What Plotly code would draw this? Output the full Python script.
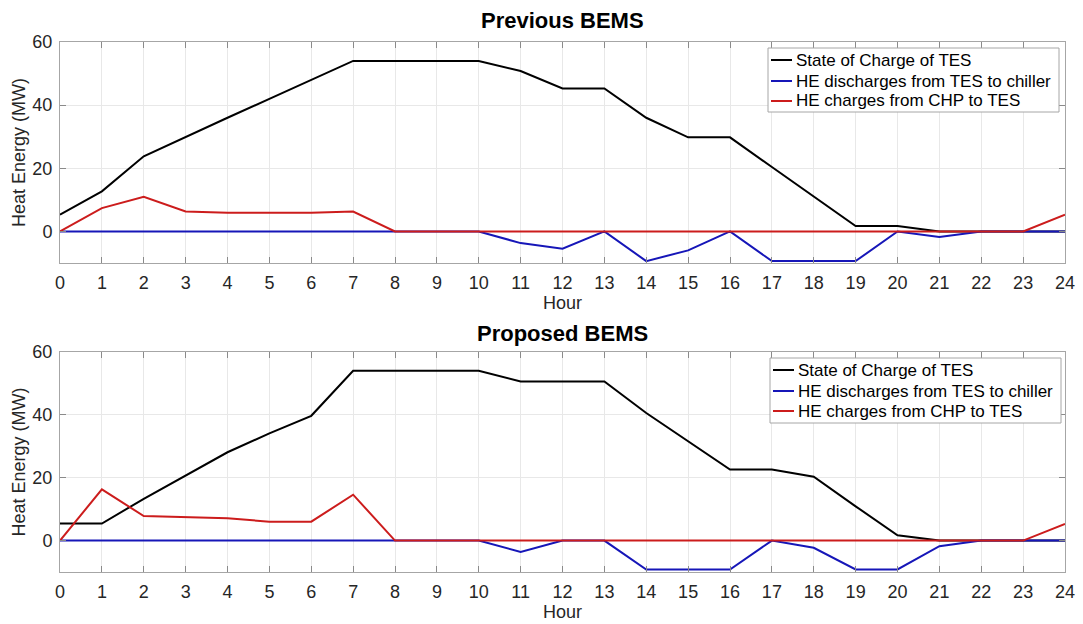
import plotly.graph_objects as go

hours = list(range(25))
x_ticks = list(range(25))
y_ticks = [0, 20, 40, 60]

names = ["State of Charge of TES", "HE discharges from TES to chiller", "HE charges from CHP to TES"]

prev_soc = [5.3, 12.7, 23.8, 30.0, 36.0, 42.0, 48.0, 54.0, 54.0, 54.0, 54.0, 50.8, 45.3, 45.3,
            36.0, 29.8, 29.8, 20.4, 11.1, 1.7, 1.7, 0.0, 0.0, 0.0, 0.0]
prev_dis = [0, 0, 0, 0, 0, 0, 0, 0, 0, 0, 0, -3.7, -5.5, 0, -9.4, -6.0, 0, -9.4, -9.4, -9.4,
            0, -1.8, 0, 0, 0]
prev_chg = [0, 7.4, 11.0, 6.3, 5.9, 5.8, 5.9, 6.3, 0, 0, 0, 0, 0, 0, 0, 0, 0, 0, 0, 0, 0, 0,
            0, 0, 5.3]

prop_soc = [5.4, 5.4, 13.3, 20.8, 28.1, 34.1, 39.7, 54.0, 54.0, 54.0, 54.0, 50.6, 50.6, 50.6,
            40.6, 31.5, 22.6, 22.6, 20.3, 10.9, 1.7, 0.0, 0.0, 0.0, 0.0]
prop_dis = [0, 0, 0, 0, 0, 0, 0, 0, 0, 0, 0, -3.6, 0, 0, -9.2, -9.2, -9.2, 0, -2.3, -9.2,
            -9.2, -1.8, 0, 0, 0]
prop_chg = [0, 16.3, 7.8, 7.5, 7.1, 6.0, 6.0, 14.6, 0, 0, 0, 0, 0, 0, 0, 0, 0, 0, 0, 0, 0, 0,
            0, 0, 5.3]

colors = ["#000000", "#1616b8", "#cc1c1c"]
FONT = "Liberation Sans, Arial, Helvetica, sans-serif"
TXT = "#262626"

# layout geometry (pixels)
W, H = 1083, 624
ML, MR, MT, MB = 60, 18, 42, 52
PW, PH = W - ML - MR, H - MT - MB


def px(x):
    return (x - ML) / PW


def py(y):
    return 1 - (y - MT) / PH


fig = go.Figure()

panels = [
    ("x", "y", [prev_soc, prev_dis, prev_chg]),
    ("x2", "y2", [prop_soc, prop_dis, prop_chg]),
]
for xa, ya, series in panels:
    for name, vals, col in zip(names, series, colors):
        fig.add_trace(go.Scatter(
            x=hours, y=vals, mode="lines", name=name, xaxis=xa, yaxis=ya,
            showlegend=False, line=dict(color=col, width=2),
        ))

axis_common = dict(
    showgrid=True, gridcolor="#e8e8e8", gridwidth=1,
    showline=True, linecolor="#a6a6a6", linewidth=1, mirror="ticks",
    ticks="inside", ticklen=6, tickcolor="#8a8a8a",
    zeroline=False, automargin=False,
    tickfont=dict(family=FONT, size=18, color=TXT),
)

xcommon = dict(axis_common, range=[0, 24], tickmode="array", tickvals=x_ticks,
               ticktext=[str(t) for t in x_ticks], ticklabelstandoff=3,
               title=dict(text="Hour", font=dict(family=FONT, size=18, color=TXT), standoff=4))
ycommon = dict(axis_common, range=[-10, 60], tickmode="array", tickvals=y_ticks,
               ticktext=[str(t) for t in y_ticks], ticklabelstandoff=3,
               title=dict(text="Heat Energy (MW)", font=dict(family=FONT, size=18, color=TXT), standoff=2))

shapes = []
annotations = [
    dict(text="<b>Previous BEMS</b>", x=0.5, y=py(21), xref="paper", yref="paper",
         xanchor="center", yanchor="middle", showarrow=False,
         font=dict(family=FONT, size=22, color="#000000")),
    dict(text="<b>Proposed BEMS</b>", x=0.5, y=py(333), xref="paper", yref="paper",
         xanchor="center", yanchor="middle", showarrow=False,
         font=dict(family=FONT, size=22, color="#000000")),
]

# manual legends (box, line samples, labels) for each panel
legend_boxes = [(768, 1059, 48, 112, [60, 81, 101]), (770, 1061, 358, 423, [370, 391, 411])]
for x0, x1, y0, y1, rows in legend_boxes:
    shapes.append(dict(type="rect", xref="paper", yref="paper",
                       x0=px(x0), x1=px(x1), y0=py(y1), y1=py(y0),
                       fillcolor="white", line=dict(color="#a6a6a6", width=1), layer="above"))
    for name, col, ry in zip(names, colors, rows):
        shapes.append(dict(type="line", xref="paper", yref="paper",
                           x0=px(x0 + 3), x1=px(x0 + 24), y0=py(ry), y1=py(ry),
                           line=dict(color=col, width=2), layer="above"))
        annotations.append(dict(text=name, x=px(x0 + 26), y=py(ry), xref="paper", yref="paper",
                                xanchor="left", yanchor="middle", showarrow=False,
                                font=dict(family=FONT, size=17, color="#000000")))

fig.update_layout(
    width=W, height=H,
    margin=dict(l=ML, r=MR, t=MT, b=MB),
    paper_bgcolor="white", plot_bgcolor="white",
    showlegend=False,
    xaxis=dict(xcommon, domain=[0, 1], anchor="y"),
    yaxis=dict(ycommon, domain=[py(263), 1], anchor="x"),
    xaxis2=dict(xcommon, domain=[0, 1], anchor="y2"),
    yaxis2=dict(ycommon, domain=[0, py(352)], anchor="x2"),
    shapes=shapes,
    annotations=annotations,
)

fig.write_html("out.html")
